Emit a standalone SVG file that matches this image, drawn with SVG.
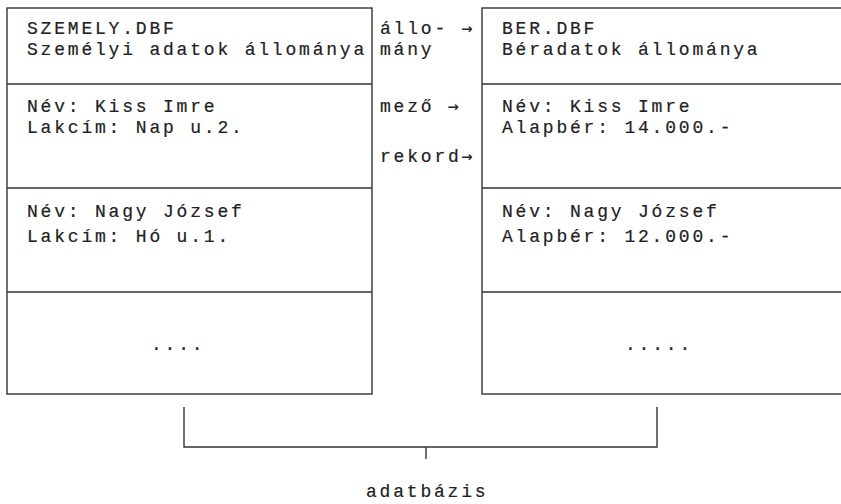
<svg xmlns="http://www.w3.org/2000/svg" width="841" height="504" viewBox="0 0 841 504">
<style>
.box{fill:none;stroke:#333;stroke-width:1.4}
.ln{stroke:#333;stroke-width:1.4;fill:none}
text{font-family:"Liberation Mono","DejaVu Sans Mono",monospace;font-size:18px;letter-spacing:2.8px;fill:#222;stroke:#222;stroke-width:0.2}
.ar{font-family:"DejaVu Sans Mono",monospace}
</style>
<rect width="841" height="504" fill="#fff"/>
<g id="szemely">
<rect class="box" x="7" y="8" width="365" height="386"/>
<line class="ln" x1="7" y1="84" x2="372" y2="84"/>
<line class="ln" x1="7" y1="188" x2="372" y2="188"/>
<line class="ln" x1="7" y1="292" x2="372" y2="292"/>
<text x="27" y="34">SZEMELY.DBF</text>
<text x="27" y="55">Személyi adatok állománya</text>
<text x="27" y="112">Név: Kiss Imre</text>
<text x="27" y="133">Lakcím: Nap u.2.</text>
<text x="27" y="217">Név: Nagy József</text>
<text x="27" y="242">Lakcím: Hó u.1.</text>
<text x="151" y="350">....</text>
</g>
<g id="ber">
<rect class="box" x="482" y="8" width="380" height="386"/>
<line class="ln" x1="482" y1="84" x2="841" y2="84"/>
<line class="ln" x1="482" y1="188" x2="841" y2="188"/>
<line class="ln" x1="482" y1="292" x2="841" y2="292"/>
<text x="502" y="34">BER.DBF</text>
<text x="502" y="55">Béradatok állománya</text>
<text x="502" y="112">Név: Kiss Imre</text>
<text x="502" y="133">Alapbér: 14.000.-</text>
<text x="502" y="217">Név: Nagy József</text>
<text x="502" y="242">Alapbér: 12.000.-</text>
<text x="625" y="350">.....</text>
</g>
<g id="labels">
<text x="380" y="34">állo- <tspan class="ar">→</tspan></text>
<text x="380" y="55">mány</text>
<text x="380" y="112">mező  <tspan class="ar">→</tspan></text>
<text x="380" y="162">rekord<tspan class="ar">→</tspan></text>
</g>
<g id="connectors">
<path class="ln" d="M184,407 V447 H657 V407 M426,447 V459"/>
</g>
<g id="adatbazis">
<text x="366" y="497">adatbázis</text>
</g>
</svg>
